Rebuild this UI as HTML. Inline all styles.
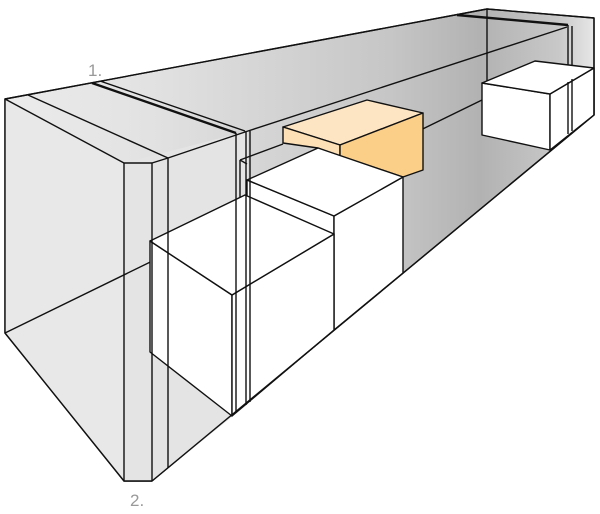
<!DOCTYPE html>
<html><head><meta charset="utf-8"><style>body{margin:0;background:#fff}svg{display:block}</style></head><body>
<svg width="600" height="514" viewBox="0 0 600 514" xmlns="http://www.w3.org/2000/svg">
<defs>
<linearGradient id="g" x1="0" y1="0" x2="600" y2="0" gradientUnits="userSpaceOnUse">
<stop offset="0" stop-color="#ececec"/><stop offset="0.25" stop-color="#e2e2e2"/><stop offset="0.65" stop-color="#c6c6c6"/><stop offset="0.8" stop-color="#b2b2b2"/><stop offset="0.93" stop-color="#c8c8c8"/><stop offset="1" stop-color="#ececec"/>
</linearGradient>
</defs>
<g stroke="#111" stroke-width="1.4" stroke-linejoin="round" fill="none">
<polygon points="5,99 487,9 594,18 594,115 152,481 124,481 5,333" fill="url(#g)"/>
<polygon points="5,99 124,163 124,481 5,333" fill="#e8e8e8" stroke="none"/>
<polygon points="124,163 248,131 248,404 152,481 124,481" fill="#e4e4e4" stroke="none"/>
<polyline points="5,99 124,163 152,163 168,158 248,131 567,27"/>
<line x1="28" y1="95" x2="168" y2="158"/>
<line x1="92" y1="83" x2="236" y2="133" stroke-width="2.4"/>
<line x1="100" y1="81" x2="245" y2="131"/>
<line x1="457" y1="15" x2="568" y2="25" stroke-width="2.4"/>
<line x1="124" y1="163" x2="124" y2="481"/>
<line x1="5" y1="333" x2="482" y2="100"/>
<line x1="487" y1="9" x2="487" y2="83"/>
<line x1="568" y1="25" x2="568" y2="134"/>
<line x1="572" y1="26" x2="572" y2="131"/>
<line x1="240" y1="160" x2="283" y2="144"/>
<line x1="240" y1="160" x2="247" y2="164"/>
<line x1="240" y1="160" x2="240" y2="240"/>
<!-- orange -->
<polygon points="283,127 367,100 423,113 340,145" fill="#fde5c4"/>
<polygon points="283,127 340,145 340,156 318,148 283,143" fill="#fde0b6"/>
<polygon points="340,145 423,113 423,170 403,177 340,156" fill="#fccf88"/>
<!-- box B -->
<polygon points="247,180 334,216 334,330 247,403" fill="#fff"/>
<polygon points="334,216 403,177 403,273 334,330" fill="#fff"/>
<polygon points="247,180 318,148 403,177 334,216" fill="#fff"/>
<!-- box A -->
<polygon points="150,241 232,295 232,416 150,352" fill="#fff"/>
<polygon points="232,295 334,234 334,330 232,416" fill="#fff"/>
<polygon points="150,241 245,195 334,234 232,295" fill="#fff"/>
<!-- box C -->
<polygon points="482,83 550,94 550,150 482,135" fill="#fff"/>
<polygon points="550,94 594,68 594,115 550,150" fill="#fff"/>
<polygon points="482,83 535,61 594,68 550,94" fill="#fff"/>
<line x1="568" y1="82" x2="568" y2="134"/>
<line x1="572" y1="79" x2="572" y2="131"/>
<line x1="152" y1="163" x2="152" y2="481"/>
<line x1="168" y1="158" x2="168" y2="468"/>
<line x1="236" y1="133" x2="236" y2="413"/>
<line x1="246" y1="131" x2="246" y2="405"/>
<line x1="250" y1="131" x2="250" y2="402"/>
<polygon points="5,99 487,9 594,18 594,115 152,481 124,481 5,333"/>
</g>
<g font-family="Liberation Sans, sans-serif" font-size="17" fill="#999">
<text x="88" y="76">1.</text>
<text x="130" y="506">2.</text>
</g>
</svg>
</body></html>
